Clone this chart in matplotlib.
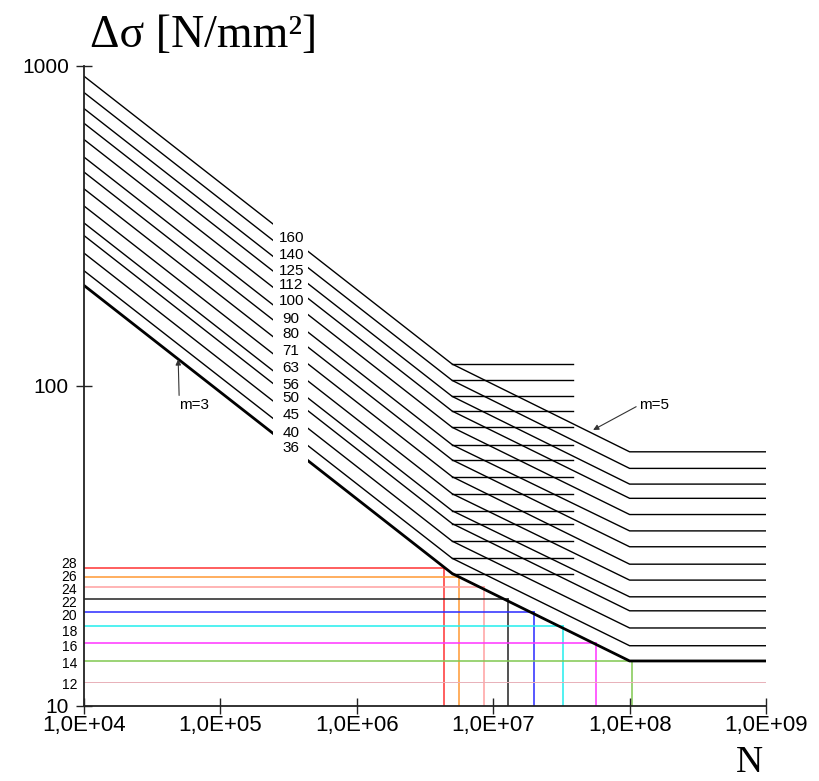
import matplotlib
matplotlib.use("Agg")
import matplotlib.pyplot as plt
import numpy as np
from matplotlib.patches import Rectangle
from matplotlib.ticker import FixedLocator, NullLocator

# detail categories and the stress values of each S-N line
categories = ["160", "140", "125", "112", "100", "90", "80", "71", "63", "56", "50", "45", "40", "36"]
stress_1e4 = [929, 826, 736, 662, 589, 519, 466, 413, 365, 323, 295, 260, 229, 206]
stress_knee = [117, 104, 92.7, 83.4, 74.2, 65.4, 58.7, 52.0, 46.0, 40.7, 37.1, 32.7, 28.9, 25.9]
stress_cut = [62.2, 55.2, 49.3, 44.5, 39.6, 35.2, 31.4, 27.7, 24.7, 21.9, 19.8, 17.5, 15.4, 13.8]
n_start = 1e4
n_knee = 5e6
n_stub_end = 3.85e7
n_cut = 1e8
n_end = 1e9

# coloured read-off lines for the bold curve
level_labels = ["28", "26", "24", "22", "20", "18", "16", "14", "12"]
level_label_pos = [28.0, 25.6, 23.3, 21.2, 19.35, 17.2, 15.4, 13.6, 11.7]
level_drawn = [26.9, 25.3, 23.5, 21.6, 19.7, 17.7, 15.7, 13.8, 11.9]
level_cycles = [4.35e6, 5.6e6, 8.55e6, 1.28e7, 1.99e7, 3.24e7, 5.65e7, 1.04e8, 1e9]
level_colors = ["#ff3333", "#ff9933", "#ffa0a0", "#222222", "#2a2aff",
                "#22eeee", "#ff33ff", "#80c850", "#e8b0b8"]

x_ticks = [1e4, 1e5, 1e6, 1e7, 1e8, 1e9]
x_ticklabels = ["1,0E+04", "1,0E+05", "1,0E+06", "1,0E+07", "1,0E+08", "1,0E+09"]
y_ticks = [10, 100, 1000]

plt.rcParams["font.family"] = ["Liberation Sans", "DejaVu Sans"]

fig = plt.figure(figsize=(8.19, 7.81), dpi=100)
ax = fig.add_axes([0.1026, 0.0964, 0.8327, 0.8191])
ax.set_xscale("log")
ax.set_yscale("log")
ax.set_xlim(1e4, 1e9)
ax.set_ylim(10, 1000)

for i, cat in enumerate(categories):
    bold = i == len(categories) - 1
    ax.plot([n_start, n_knee, n_cut, n_end],
            [stress_1e4[i], stress_knee[i], stress_cut[i], stress_cut[i]],
            color="black", lw=2.0 if bold else 1.0, zorder=2)
    ax.plot([n_knee, n_stub_end], [stress_knee[i], stress_knee[i]],
            color="black", lw=1.0, zorder=2)

# gap in the m=3 lines where the category labels sit
ax.add_patch(Rectangle((2.44e5, 50), 4.39e5 - 2.44e5, 300,
                       facecolor="white", edgecolor="none", zorder=3))
n_label = 3.3e5
for i, cat in enumerate(categories):
    y_lab = 10 ** np.interp(np.log10(n_label), [np.log10(n_start), np.log10(n_knee)],
                            [np.log10(stress_1e4[i]), np.log10(stress_knee[i])])
    ax.text(n_label, y_lab, cat, fontsize=11, ha="center", va="center", zorder=4)

for lev, n, c in zip(level_drawn, level_cycles, level_colors):
    thin = lev < 12.5
    ax.plot([n_start, n], [lev, lev], color=c, lw=0.7 if thin else 1.1, zorder=1.5)
    if not thin:
        ax.plot([n, n], [10, lev], color=c, lw=1.1, zorder=1.5)

ax.annotate("m=3", xy=(4.9e4, 121), xytext=(5.0e4, 87), fontsize=11,
            ha="left", va="center",
            arrowprops=dict(arrowstyle="-|>", lw=0.8, color="#333333",
                            mutation_scale=8, relpos=(0, 0.5), shrinkA=0, shrinkB=0))
ax.annotate("m=5", xy=(5.4e7, 72.8), xytext=(1.17e8, 87), fontsize=11,
            ha="left", va="center",
            arrowprops=dict(arrowstyle="-|>", lw=0.8, color="#333333",
                            mutation_scale=8, relpos=(0, 0.5), shrinkA=0, shrinkB=0))

for side in ["top", "right"]:
    ax.spines[side].set_visible(False)
for side in ["left", "bottom"]:
    ax.spines[side].set_linewidth(1.3)
    ax.spines[side].set_color("#222222")

ax.xaxis.set_major_locator(FixedLocator(x_ticks))
ax.set_xticklabels(x_ticklabels)
ax.xaxis.set_minor_locator(NullLocator())
ax.yaxis.set_major_locator(FixedLocator(y_ticks))
ax.set_yticklabels([str(v) for v in y_ticks])
ax.set_yticks(level_label_pos, level_labels, minor=True)

ax.tick_params(axis="x", which="major", direction="inout", length=12, width=1.0,
               labelsize=16, pad=1, color="#222222")
ax.tick_params(axis="y", which="major", direction="inout", length=12, width=1.0,
               labelsize=15, pad=5, color="#222222")
ax.tick_params(axis="y", which="minor", length=0, labelsize=10, pad=5)

fig.text(0.110, 0.940, "Δσ [N/mm²]", fontsize=33, family="Liberation Serif",
         ha="left", va="baseline")
fig.text(0.9145, 0.0115, "N", fontsize=27, family="Liberation Serif",
         ha="center", va="baseline")

fig.savefig("out.png", dpi=100, facecolor="white")
